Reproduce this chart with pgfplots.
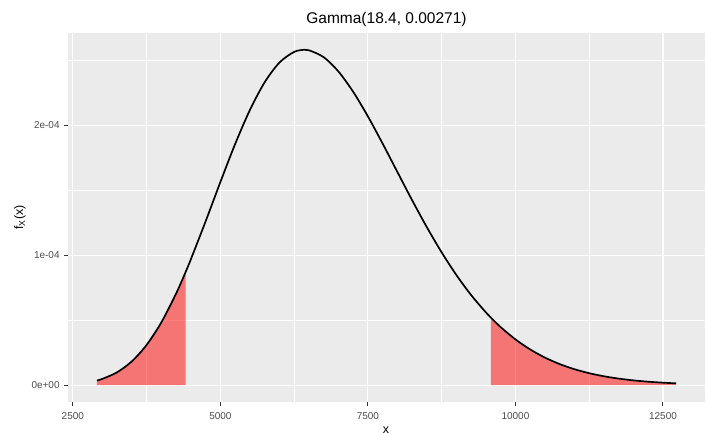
\documentclass[border=0pt]{standalone}
\usepackage{pgfplots}
\pgfplotsset{compat=1.18}
\usepackage{fontspec}
\setmainfont{Liberation Sans}
\definecolor{ggbg}{HTML}{EBEBEB}
\definecolor{ggtick}{HTML}{333333}
\definecolor{ggtext}{HTML}{4D4D4D}
\pgfplotstableread{
x y
2909 3.645e-6
3000 4.868e-6
3250 9.955e-6
3500 1.8357e-5
3750 3.0968e-5
4000 4.835e-5
4250 7.0514e-5
4412 8.716e-5
4500 9.682e-5
4750 1.2598e-4
5000 1.5620e-4
5250 1.8541e-4
5500 2.1156e-4
5750 2.3287e-4
6000 2.4802e-4
6250 2.5629e-4
6421 2.579e-4
6500 2.5756e-4
6750 2.5225e-4
7000 2.4122e-4
7250 2.2561e-4
7500 2.0668e-4
7750 1.8572e-4
8000 1.6389e-4
8250 1.4218e-4
8500 1.2140e-4
8750 1.0210e-4
9000 8.466e-5
9250 6.926e-5
9500 5.595e-5
9585 5.188e-5
9750 4.465e-5
10000 3.523e-5
10250 2.750e-5
10500 2.124e-5
10750 1.6244e-5
11000 1.2308e-5
11250 9.242e-6
11500 6.881e-6
11750 5.081e-6
12000 3.722e-6
12250 2.706e-6
12500 1.953e-6
12721 1.456e-6
}\dens
\begin{document}
\begin{tikzpicture}
\begin{axis}[
  at={(0,0)}, anchor=south west, scale only axis,
  width=637bp, height=369bp,
  xmin=2418, xmax=13212, ymin=-1.29e-5, ymax=2.708e-4,
  scaled ticks=false,
  axis line style={draw=none},
  axis background/.style={fill=ggbg},
  xtick={2500,5000,7500,10000,12500},
  xticklabels={2500,5000,7500,10000,12500},
  minor xtick={3750,6250,8750,11250},
  ytick={0,1e-4,2e-4},
  yticklabels={0e+00,1e-04,2e-04},
  minor ytick={5e-5,1.5e-4,2.5e-4},
  grid=both,
  major grid style={white, line width=1.1bp},
  minor grid style={white, line width=0.55bp},
  tick align=outside,
  xtick pos=left, ytick pos=left,
  major tick length=3.7bp, minor tick length=0pt,
  tick style={ggtick, line width=1.0bp},
  ticklabel style={font=\fontsize{10bp}{12bp}\selectfont, text=ggtext},
  xticklabel style={inner sep=0pt, anchor=north, yshift=-6.5bp},
  yticklabel style={inner sep=0pt, anchor=east, xshift=-4.5bp},
]
\addplot[fill=red, fill opacity=0.5, draw=none] coordinates {
(2909,0) (2909,3.645e-6) (3000,4.868e-6) (3250,9.955e-6) (3500,1.8357e-5)
(3750,3.0968e-5) (4000,4.835e-5) (4250,7.0514e-5) (4412,8.716e-5) (4412,0)};
\addplot[fill=red, fill opacity=0.5, draw=none] coordinates {
(9585,0) (9585,5.188e-5) (9750,4.465e-5) (10000,3.523e-5) (10250,2.750e-5)
(10500,2.124e-5) (10750,1.6244e-5) (11000,1.2308e-5) (11250,9.242e-6)
(11500,6.881e-6) (11750,5.081e-6) (12000,3.722e-6) (12250,2.706e-6)
(12500,1.953e-6) (12721,1.456e-6) (12721,0)};
\addplot[black, line width=1.7bp, smooth, mark=none] table[x=x, y=y] {\dens};
\end{axis}
\node[anchor=base, inner sep=0pt, font=\fontsize{15.5bp}{18bp}\selectfont] at (318.5bp,378bp) {Gamma(18.4, 0.00271)};
\node[rotate=90, inner sep=0pt, font=\fontsize{12.4bp}{15bp}\selectfont] at (-48bp,184.5bp) {f\textsubscript{X}(x)};
\node[anchor=north, inner sep=0pt, font=\fontsize{12.4bp}{15bp}\selectfont] at (318bp,-25bp) {x};
\pgfresetboundingbox
\useasboundingbox (-68bp,-31bp) rectangle (639bp,402bp);
\end{tikzpicture}
\end{document}
